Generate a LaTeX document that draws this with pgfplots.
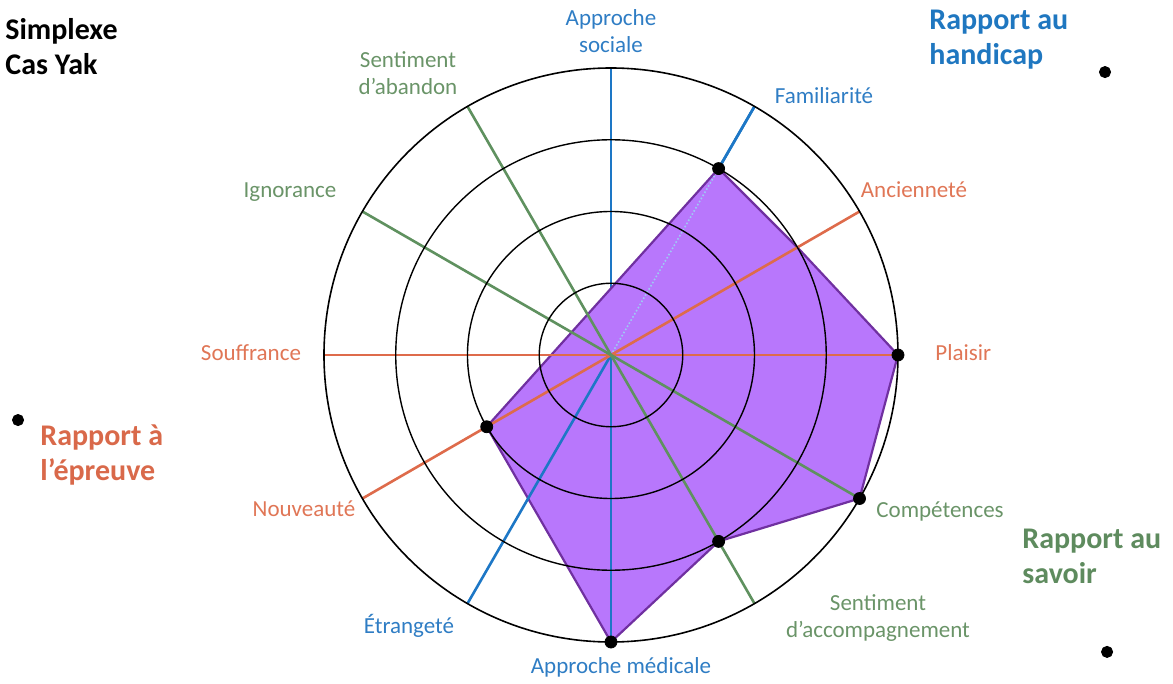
\documentclass[border=0pt]{standalone}
\usepackage{fontspec}
\setmainfont{Carlito}
\usepackage{pgfplots}
\pgfplotsset{compat=1.18}
\usepgfplotslibrary{polar}
\definecolor{cblue}{HTML}{1D77C6}
\definecolor{corange}{HTML}{DE6B4B}
\definecolor{cgreen}{HTML}{5F915F}
\definecolor{tblue}{HTML}{2F7DC4}
\definecolor{torange}{HTML}{E07656}
\definecolor{tgreen}{HTML}{6A9468}
\definecolor{bblue}{HTML}{1F77C0}
\definecolor{borange}{HTML}{D9694A}
\definecolor{bgreen}{HTML}{5E8B5E}
\definecolor{cpurple}{HTML}{B877FC}
\definecolor{cpedge}{HTML}{7030A0}
\definecolor{lblue}{HTML}{9FC8F5}
\newcommand{\lab}{\fontsize{11.5}{13.5}\selectfont}
\newcommand{\bigt}{\fontsize{15}{17.5}\selectfont\bfseries}
\begin{document}
\begin{tikzpicture}
\path[use as bounding box] (-305.5pt,-164.5pt) rectangle (281pt,177.5pt);
\begin{polaraxis}[
  at={(0pt,0pt)}, anchor=center,
  scale only axis, width=287pt, height=287pt,
  ymin=0, ymax=4,
  xtick=\empty, ytick={1,2,3}, yticklabels={},
  major tick length=0pt,
  ymajorgrids,
  grid style={black, line width=0.7pt},
  axis line style={black, line width=0.8pt},
  y axis line style={draw=none},
  axis on top, clip=false]
% spokes under the polygon
\addplot[cblue, line width=1.3pt] coordinates {(90,0) (90,4)};
\addplot[cblue, line width=1.3pt] coordinates {(60,0) (60,4)};
% profile
\addplot[fill=cpurple, draw=cpedge, line width=1.1pt, line join=round]
  coordinates {(60,3) (30,3) (0,4) (-30,4) (-60,3) (-90,4) (-150,2)} -- cycle;
% spokes over the polygon
\addplot[cblue, line width=1.3pt] coordinates {(270,0) (270,4)};
\addplot[cblue, line width=1.3pt] coordinates {(240,0) (240,4)};
\addplot[cblue, line width=1.3pt] coordinates {(60,3) (60,4)};
\addplot[lblue, line width=0.8pt, densely dotted] coordinates {(60,0) (60,3)};
\addplot[corange, line width=1.3pt] coordinates {(0,4) (180,4)};
\addplot[corange, line width=1.3pt] coordinates {(30,4) (210,4)};
\addplot[cgreen, line width=1.3pt] coordinates {(150,4) (330,4)};
\addplot[cgreen, line width=1.3pt] coordinates {(120,4) (300,4)};
% marked points
\addplot[only marks, mark=*, mark size=3pt, black]
  coordinates {(60,3) (0,4) (-30,4) (-60,3) (-90,4) (-150,2)};
% group dots
\addplot[only marks, mark=*, mark size=2.8pt, black]
  coordinates {(29.8,7.935) (186.26,8.314) (-30.9,8.058)};
\end{polaraxis}
% axis labels
\node[tblue, align=center, font=\lab] at (0pt,162pt) {Approche\\sociale};
\node[tblue, font=\lab] at (106.5pt,129.5pt) {Familiarité};
\node[torange, font=\lab] at (151.5pt,82.5pt) {Ancienneté};
\node[torange, font=\lab, anchor=west, inner sep=0pt] at (162pt,1pt) {Plaisir};
\node[tgreen, font=\lab, anchor=west, inner sep=0pt] at (132.5pt,-78pt) {Compétences};
\node[tgreen, align=center, font=\lab] at (133.5pt,-131.5pt) {Sentiment\\d’accompagnement};
\node[tblue, font=\lab] at (5pt,-156pt) {Approche médicale};
\node[tblue, font=\lab] at (-101pt,-135.5pt) {Étrangeté};
\node[torange, font=\lab] at (-153.5pt,-77pt) {Nouveauté};
\node[torange, font=\lab] at (-180pt,1pt) {Souffrance};
\node[tgreen, font=\lab] at (-160.5pt,81.5pt) {Ignorance};
\node[tgreen, align=center, font=\lab] at (-101.5pt,141pt) {Sentiment\\d’abandon};
% group titles
\node[black, align=left, font=\bigt, anchor=west, inner sep=0pt] at (-303pt,154pt) {Simplexe\\Cas Yak};
\node[bblue, align=left, font=\bigt, anchor=west, inner sep=0pt] at (159pt,157.5pt) {Rapport au\\handicap};
\node[borange, align=left, font=\bigt, anchor=west, inner sep=0pt] at (-285.5pt,-50pt) {Rapport à\\l’épreuve};
\node[bgreen, align=left, font=\bigt, anchor=west, inner sep=0pt] at (205.5pt,-100.5pt) {Rapport au\\savoir};
\end{tikzpicture}
\end{document}
